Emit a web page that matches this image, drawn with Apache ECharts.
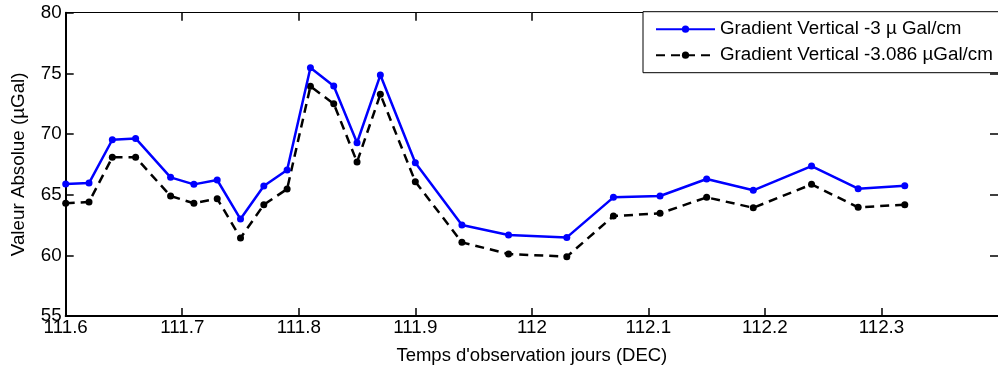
<!DOCTYPE html>
<html>
<head>
<meta charset="utf-8">
<script src="https://cdn.jsdelivr.net/npm/echarts@6/dist/echarts.min.js"></script>
<style>
  html, body { margin: 0; padding: 0; background: #fff; }
  #chart { width: 998px; height: 372px; }
</style>
</head>
<body>
<div id="chart"></div>
<script>
// Observation times (decimal day of year)
const days = [111.60, 111.62, 111.64, 111.66, 111.69, 111.71, 111.73, 111.75, 111.77, 111.79,
              111.81, 111.83, 111.85, 111.87, 111.90, 111.94, 111.98, 112.03, 112.07, 112.11,
              112.15, 112.19, 112.24, 112.28, 112.32];

// Absolute gravity values (µGal) corrected with each vertical gradient
const gradient3 = [65.88, 65.96, 69.53, 69.64, 66.43, 65.85, 66.21, 62.99, 65.71, 67.03,
                   75.47, 73.96, 69.28, 74.86, 67.63, 62.50, 61.67, 61.48, 64.78, 64.89,
                   66.29, 65.36, 67.36, 65.49, 65.74];
const gradient3086 = [64.29, 64.39, 68.08, 68.08, 64.89, 64.29, 64.67, 61.43, 64.17, 65.47,
                      73.93, 72.50, 67.69, 73.27, 66.07, 61.07, 60.11, 59.89, 63.24, 63.46,
                      64.78, 63.92, 65.85, 63.96, 64.17];

const seriesNames = ['Gradient Vertical -3 \u00b5 Gal/cm', 'Gradient Vertical -3.086 \u00b5Gal/cm'];
const xAxisName = "Temps d'observation jours (DEC)";
const yAxisName = 'Valeur Absolue (\u00b5Gal)';

const FONT = "'Liberation Sans', Arial, Helvetica, sans-serif";
const pairs = (xs, ys) => xs.map((x, i) => [x, ys[i]]);

const chart = echarts.init(document.getElementById('chart'), null, { renderer: 'canvas' });

const tick = { show: true, inside: true, length: 8, lineStyle: { color: '#000', width: 1.5 } };

chart.setOption({
  animation: false,
  backgroundColor: '#fff',
  grid: { left: 65.7, right: -6, top: 12.7, bottom: 56, containLabel: false },
  legend: {
    left: 643, top: 11.7,
    orient: 'vertical',
    padding: [8, 14, 8, 12],
    itemGap: 7,
    itemWidth: 59,
    itemHeight: 9,
    backgroundColor: '#fff',
    borderColor: '#000',
    borderWidth: 1,
    borderRadius: 0,
    textStyle: { fontFamily: FONT, fontSize: 18.8, color: '#000' },
    data: seriesNames
  },
  xAxis: [{
    type: 'value', min: 111.6, max: 112.4, interval: 0.1,
    name: xAxisName, nameLocation: 'middle', nameGap: 30,
    nameTextStyle: { fontFamily: FONT, fontSize: 18.5, color: '#000' },
    axisLine: { show: true, lineStyle: { color: '#000', width: 2 } },
    axisTick: tick,
    axisLabel: { fontFamily: FONT, fontSize: 18.8, color: '#000', margin: 2, showMaxLabel: false },
    splitLine: { show: false }
  }, {
    type: 'value', position: 'top', min: 111.6, max: 112.4, interval: 0.1,
    axisLine: { show: true, onZero: false, lineStyle: { color: '#000', width: 1 } },
    axisTick: tick,
    axisLabel: { show: false },
    splitLine: { show: false }
  }],
  yAxis: [{
    type: 'value', min: 55, max: 80, interval: 5,
    name: yAxisName, nameLocation: 'middle', nameGap: 37,
    nameTextStyle: { fontFamily: FONT, fontSize: 18.8, color: '#000' },
    axisLine: { show: true, lineStyle: { color: '#000', width: 2 } },
    axisTick: tick,
    axisLabel: { fontFamily: FONT, fontSize: 18.8, color: '#000', margin: 4 },
    splitLine: { show: false }
  }, {
    type: 'value', position: 'right', min: 55, max: 80, interval: 5,
    axisLine: { show: true, onZero: false, lineStyle: { color: '#000', width: 1 } },
    axisTick: tick,
    axisLabel: { show: false },
    splitLine: { show: false }
  }],
  series: [{
    name: seriesNames[0],
    type: 'line',
    data: pairs(days, gradient3),
    symbol: 'circle', symbolSize: 7,
    itemStyle: { color: '#0000ff' },
    lineStyle: { color: '#0000ff', width: 2.5 },
    z: 3
  }, {
    name: seriesNames[1],
    type: 'line',
    data: pairs(days, gradient3086),
    symbol: 'circle', symbolSize: 7,
    itemStyle: { color: '#000' },
    lineStyle: { color: '#000', width: 2.5, type: [9, 6] },
    z: 2
  }]
});
</script>
</body>
</html>
